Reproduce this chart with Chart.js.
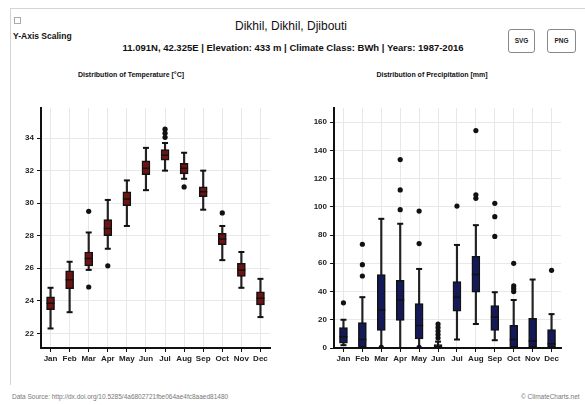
<!DOCTYPE html>
<html>
<head>
<meta charset="utf-8">
<script src="https://cdn.jsdelivr.net/npm/chart.js@4.4.1/dist/chart.umd.min.js"></script>
<style>
  body { margin: 0; background: #fff; font-family: "Liberation Sans", Arial, sans-serif; }
  #wrap { position: relative; width: 585px; height: 405px; overflow: hidden; }
  .t { position: absolute; white-space: nowrap; color: #111; }
  .frame { position: absolute; left: 10px; top: 8px; width: 600px; height: 376px; border-left: 1px solid #d4d4d4; border-top: 1px solid #d4d4d4; }
  .btn { position: absolute; top: 29px; height: 22px; border: 1px solid #888; border-radius: 3px; font-size: 6.5px; font-weight: bold; text-align: center; line-height: 22px; color: #222; }
  canvas { position: absolute; }
</style>
</head>
<body>
<div id="wrap">
  <div class="frame"></div>
  <div style="position:absolute;left:14px;top:17px;width:5px;height:5px;border:1px solid #aaa;"></div>
  <div class="t" style="left:13px;top:31px;font-size:8.5px;font-weight:bold;">Y-Axis Scaling</div>
  <div class="t" style="left:291px;top:19px;font-size:12px;transform:translateX(-50%);">Dikhil, Dikhil, Djibouti</div>
  <div class="t" style="left:293px;top:42px;font-size:9.5px;font-weight:bold;transform:translateX(-50%);">11.091N, 42.325E | Elevation: 433 m | Climate Class: BWh | Years: 1987-2016</div>
  <div class="btn" style="left:508px;width:25px;">SVG</div>
  <div class="btn" style="left:547px;width:27px;">PNG</div>
  <div class="t" style="left:131px;top:71px;font-size:7px;font-weight:bold;transform:translateX(-50%);">Distribution of Temperature [°C]</div>
  <div class="t" style="left:432px;top:71px;font-size:7px;font-weight:bold;transform:translateX(-50%);">Distribution of Precipitation [mm]</div>
  <canvas id="temp" width="265" height="270" style="left:11px;top:100px;"></canvas>
  <canvas id="prec" width="263" height="270" style="left:304px;top:100px;"></canvas>
  <div class="t" style="left:12px;top:393px;font-size:6.5px;color:#777;">Data Source: http://dx.doi.org/10.5285/4a6802721fbe064ae4fc8aaed81480</div>
  <div class="t" style="left:521px;top:393px;font-size:6.5px;color:#777;">© ClimateCharts.net</div>
</div>
<script>
var months = ['Jan', 'Feb', 'Mar', 'Apr', 'May', 'Jun', 'Jul', 'Aug', 'Sep', 'Oct', 'Nov', 'Dec'];

// temperature [°C]
var tempMin = [22.3, 23.3, 25.9, 27.2, 28.6, 30.8, 32.0, 31.5, 29.6, 26.5, 24.8, 23.0];
var tempQ1 = [23.45, 24.75, 26.15, 28.0, 29.85, 31.75, 32.65, 31.8, 30.4, 27.45, 25.5, 23.75];
var tempMed = [23.85, 25.3, 26.6, 28.45, 30.25, 32.15, 32.95, 32.15, 30.7, 27.8, 25.9, 24.15];
var tempQ3 = [24.25, 25.85, 27.0, 29.0, 30.7, 32.6, 33.3, 32.45, 31.0, 28.15, 26.3, 24.55];
var tempMax = [24.8, 26.4, 28.2, 30.2, 31.4, 33.4, 33.7, 33.1, 32.0, 28.6, 27.0, 25.35];
var tempOut = [[], [], [29.5, 24.85], [26.15], [], [], [34.05, 34.3, 34.55], [31.0], [], [29.4], [], []];

// precipitation [mm]
var precMin = [2, 0, 0, 0, 0, 0, 6, 17, 5.5, 0, 0, 0];
var precQ1 = [3.5, 0.5, 12.5, 19.5, 6.5, 0.3, 26, 39.5, 12.5, 0.5, 0.5, 0.5];
var precMed = [8, 6, 27, 34, 16, 1, 36, 52, 22, 6, 5, 3];
var precQ3 = [14.5, 18, 52, 48, 31.5, 2.5, 47, 65, 30, 16, 21, 13];
var precMax = [20, 36, 91.5, 88, 56, 4.5, 73, 87, 39.5, 34, 48.5, 24];
var precOut = [[32], [51, 59, 73.5], [0.5], [98, 112, 133.5], [74, 97, 0.5], [7, 9.5, 12, 14.5, 17], [100.5], [106, 108.5, 154], [79, 93, 102.5], [40, 42, 44, 60], [], [55]];

function outPoints(out) {
  var pts = [];
  for (var i = 0; i < out.length; i++) {
    for (var j = 0; j < out[i].length; j++) {
      pts.push({ x: months[i], y: out[i][j] });
    }
  }
  return pts;
}

function boxChart(id, mins, q1, med, q3, maxs, out, fill, yMin, yMax, step) {
  var tickFont = { family: 'Liberation Sans', size: 8, weight: 'bold' };
  return new Chart(document.getElementById(id), {
    data: {
      labels: months,
      datasets: [
        {
          type: 'bar', order: 5, grouped: false,
          data: months.map(function (m, i) { return [mins[i], maxs[i]]; }),
          backgroundColor: '#222', barThickness: 1.5
        },
        {
          type: 'bar', order: 4, grouped: false,
          data: months.map(function (m, i) { return [q1[i], q3[i]]; }),
          backgroundColor: fill, borderColor: '#111', borderWidth: 1.5,
          borderSkipped: false, barThickness: 8
        },
        {
          type: 'line', order: 3, showLine: false, data: maxs,
          pointStyle: 'line', pointRadius: 3, borderColor: '#111', pointBorderWidth: 2
        },
        {
          type: 'line', order: 3, showLine: false, data: mins,
          pointStyle: 'line', pointRadius: 3, borderColor: '#111', pointBorderWidth: 2
        },
        {
          type: 'line', order: 2, showLine: false, data: med,
          pointStyle: 'line', pointRadius: 4, borderColor: '#111', pointBorderWidth: 1.5
        },
        {
          type: 'line', order: 1, showLine: false, data: outPoints(out),
          pointRadius: 2.6, pointBackgroundColor: '#111', pointBorderColor: '#111', pointBorderWidth: 0
        }
      ]
    },
    options: {
      responsive: false,
      animation: false,
      devicePixelRatio: 1,
      layout: { padding: { top: 8, right: 5, left: 0, bottom: 0 } },
      plugins: { legend: { display: false }, tooltip: { enabled: false } },
      scales: {
        x: {
          grid: { offset: false, color: '#e8e8e8', tickColor: '#111', tickLength: 4 },
          border: { color: '#111', width: 2 },
          ticks: { color: '#222', font: tickFont, padding: 2, maxRotation: 0, autoSkip: false },
          afterFit: function (s) { s.height = 22; }
        },
        y: {
          min: yMin, max: yMax,
          grid: { color: '#e8e8e8', tickColor: '#111', tickLength: 4 },
          border: { color: '#111', width: 2 },
          ticks: { color: '#222', font: tickFont, padding: 3, stepSize: step },
          afterBuildTicks: function (ax) {
            ax.ticks = ax.ticks.filter(function (t) { return Math.abs(t.value / step - Math.round(t.value / step)) < 1e-6; });
          },
          afterFit: function (s) { s.width = 30; }
        }
      }
    }
  });
}

boxChart('temp', tempMin, tempQ1, tempMed, tempQ3, tempMax, tempOut, '#6e1212', 21.1, 35.85, 2);
boxChart('prec', precMin, precQ1, precMed, precQ3, precMax, precOut, '#141a58', 0, 170, 20);
</script>
</body>
</html>
